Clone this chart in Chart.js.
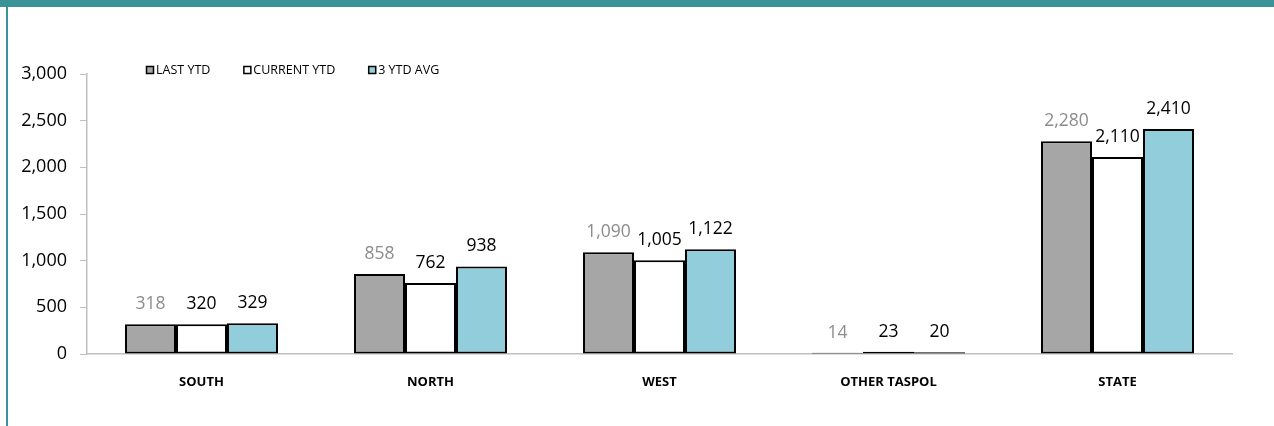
<!DOCTYPE html>
<html>
<head>
<meta charset="utf-8">
<script src="https://cdn.jsdelivr.net/npm/chart.js@4/dist/chart.umd.min.js"></script>
<style>
  html, body { margin: 0; padding: 0; background: #fff; }
  #frame { position: relative; width: 1274px; height: 426px; overflow: hidden; }
  #topband { position: absolute; left: 0; top: 0; width: 1274px; height: 7px; background: #3A9399; }
  #leftband { position: absolute; left: 6px; top: 0; width: 2px; height: 426px; background: #3A9399; }
  #wrap { position: absolute; left: 0; top: 0; width: 1274px; height: 426px; }
</style>
</head>
<body>
<div id="frame">
  <div id="wrap"><canvas id="chart"></canvas></div>
  <div id="topband"></div>
  <div id="leftband"></div>
</div>
<script>
const categories = ["SOUTH", "NORTH", "WEST", "OTHER TASPOL", "STATE"];
const seriesNames = ["LAST YTD", "CURRENT YTD", "3 YTD AVG"];
const lastYtd = [318, 858, 1090, 14, 2280];
const currentYtd = [320, 762, 1005, 23, 2110];
const avg3Ytd = [329, 938, 1122, 20, 2410];
const yTicks = [0, 500, 1000, 1500, 2000, 2500, 3000];

const FONT = "'Open Sans', 'DejaVu Sans', sans-serif";
const labelColors = ["#8C8C8C", "#000000", "#000000"];

// value labels above each bar
const barLabels = {
  id: "barLabels",
  afterDatasetsDraw(chart) {
    const ctx = chart.ctx;
    ctx.save();
    ctx.font = "17.5px " + FONT;
    ctx.textAlign = "center";
    ctx.textBaseline = "middle";
    chart.data.datasets.forEach((ds, i) => {
      const meta = chart.getDatasetMeta(i);
      meta.data.forEach((bar, j) => {
        ctx.fillStyle = labelColors[i];
        ctx.fillText(ds.data[j].toLocaleString("en-US"), bar.x, bar.y - 20);
      });
    });
    ctx.restore();
  }
};

// small legend drawn inside the plot, top left
const boxLegend = {
  id: "boxLegend",
  afterDraw(chart) {
    const ctx = chart.ctx;
    ctx.save();
    ctx.font = "12.5px " + FONT;
    ctx.textBaseline = "middle";
    let x = 146;
    const y = 70;
    chart.data.datasets.forEach((ds) => {
      ctx.fillStyle = ds.backgroundColor;
      ctx.fillRect(x, y - 4, 8, 8);
      ctx.strokeStyle = "#000";
      ctx.lineWidth = 1.5;
      ctx.strokeRect(x + 0.5, y - 3.5, 7, 7);
      ctx.fillStyle = "#000";
      ctx.fillText(ds.label, x + 10, y);
      x += 10 + ctx.measureText(ds.label).width + 33;
    });
    ctx.restore();
  }
};

const ctx = document.getElementById("chart").getContext("2d");
new Chart(ctx, {
  type: "bar",
  data: {
    labels: categories,
    datasets: [
      { label: seriesNames[0], data: lastYtd, backgroundColor: "#A6A6A6" },
      { label: seriesNames[1], data: currentYtd, backgroundColor: "#FFFFFF" },
      { label: seriesNames[2], data: avg3Ytd, backgroundColor: "#92CDDC" },
    ].map((d) => ({
      ...d,
      borderColor: "#000000",
      borderWidth: 2,
      borderSkipped: false,
      categoryPercentage: 0.668,
      barPercentage: 1.0,
    })),
  },
  options: {
    responsive: true,
    maintainAspectRatio: false,
    animation: false,
    layout: { padding: { left: 0, right: 42, top: 74, bottom: 0 } },
    plugins: {
      legend: { display: false },
      tooltip: { enabled: false },
    },
    scales: {
      x: {
        grid: { display: false },
        border: { display: true, color: "#BFBFBF", width: 1.5 },
        ticks: { color: "#000", font: { family: FONT, size: 13, weight: "bold" }, padding: 12 },
        afterFit(scale) { scale.height = 72; },
      },
      y: {
        min: 0,
        max: 3000,
        afterBuildTicks(scale) { scale.ticks = yTicks.map((v) => ({ value: v })); },
        grid: { drawOnChartArea: false, drawTicks: true, tickLength: 7, color: "#BFBFBF" },
        border: { display: true, color: "#BFBFBF", width: 1.5 },
        ticks: {
          color: "#000",
          font: { family: FONT, size: 18 },
          padding: 13,
          callback: (v) => v.toLocaleString("en-US"),
        },
        afterFit(scale) { scale.width = 87; },
      },
    },
  },
  plugins: [barLabels, boxLegend],
});
</script>
</body>
</html>
